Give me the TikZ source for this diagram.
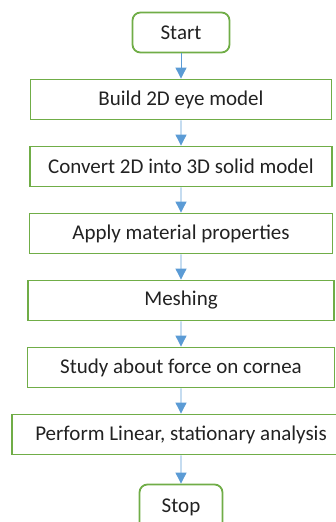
\documentclass[tikz,border=0pt]{standalone}
\usepackage{fontspec}
\setmainfont{Carlito}
\usepackage{xcolor}
\usetikzlibrary{arrows.meta}
\definecolor{boxgreen}{HTML}{70AD47}
\definecolor{arrowblue}{HTML}{5B9BD5}
\definecolor{textgray}{HTML}{222222}
\tikzset{
  stepbox/.style={draw=boxgreen, line width=1.8pt, minimum height=40pt, inner sep=0pt, text=textgray, font=\fontsize{21}{24}\selectfont},
  endbox/.style={stepbox, rounded corners=8pt},
  edge from parent/.style={draw=arrowblue, line width=0.9pt, -{Triangle[length=11pt,width=11pt]}}
}
\begin{document}
\begin{tikzpicture}[x=1pt,y=1pt]
\useasboundingbox (0,0) rectangle (335,-522);
\node (start) [endbox, minimum width=97pt] at (181,-32.5) {Start} [level distance=67pt]
  child {node (build) [stepbox, minimum width=301pt] {Build 2D eye model}
    child {node (convert) [stepbox, minimum width=302pt] {Convert 2D into 3D solid model}
      child {node (apply) [stepbox, minimum width=303pt] {Apply material properties}
        child {node (meshing) [stepbox, minimum width=306pt] {Meshing}
          child {node (study) [stepbox, minimum width=307pt] {Study about force on cornea}
            child {node (perform) [stepbox, minimum width=338pt] {Perform Linear, stationary analysis}
              child [level distance=73pt] {node (stop) [endbox, minimum width=83pt, minimum height=46pt] {Stop}}}}}}}};
\end{tikzpicture}
\end{document}
